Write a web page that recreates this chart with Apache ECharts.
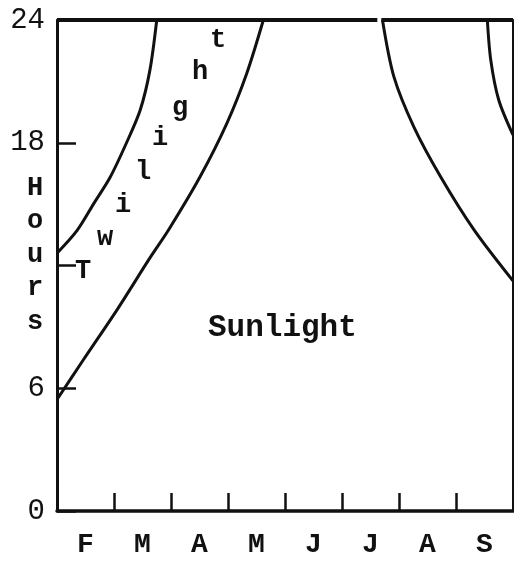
<!DOCTYPE html>
<html>
<head>
<meta charset="utf-8">
<script src="https://cdn.jsdelivr.net/npm/echarts@6/dist/echarts.min.js"></script>
<style>
html, body { margin: 0; padding: 0; background: #fff; }
#chart { width: 514px; height: 563px; }
</style>
</head>
<body>
<div id="chart"></div>
<script>
// months from 1 Feb (x = 0) to 1 Oct (x = 8)
var months = ['F', 'M', 'A', 'M', 'J', 'J', 'A', 'S'];
var hourLabels = {0: '0', 6: '6', 12: '', 18: '18', 24: '24'};

// twilight limit (upper curve, spring)
var twilightX = [0.0, 0.35, 0.65, 0.93, 1.22, 1.46, 1.63, 1.75];
var twilightY = [12.6, 13.7, 15.05, 16.3, 18.0, 19.6, 21.55, 24];

// sunlight limit (lower curve, spring)
var sunX = [0.0, 0.46, 1.05, 1.63, 1.97, 2.51, 2.98, 3.33, 3.62];
var sunY = [5.45, 7.38, 9.82, 12.37, 13.8, 16.34, 18.95, 21.4, 24];

// sunlight limit (autumn)
var sunFallX = [5.71, 5.91, 6.26, 6.73, 7.32, 8.0];
var sunFallY = [24, 21.23, 18.78, 16.34, 13.73, 11.25];

// twilight limit (autumn)
var twilightFallX = [7.55, 7.61, 7.75, 8.0];
var twilightFallY = [24, 22.04, 20.09, 18.38];

// 24 h line along the top, with the small break before July
var topX = [0, 5.62, 5.66, 5.69, 8];
var topY = [24, 24, null, 24, 24];

function pairs(xs, ys) {
  return xs.map(function (x, i) { return [x, ys[i]]; });
}

var ink = '#111';
var monoFont = '"Liberation Mono", "DejaVu Sans Mono", monospace';

function curve(name, xs, ys) {
  return {
    name: name,
    type: 'line',
    data: pairs(xs, ys),
    smooth: 0.3,
    symbol: 'none',
    lineStyle: { color: ink, width: 3 },
    xAxisIndex: 0,
    yAxisIndex: 0
  };
}

var twilightLetters = [
  ['T', 83, 271], ['w', 105, 238], ['i', 123, 205], ['l', 143, 172],
  ['i', 160, 138], ['g', 180, 108], ['h', 200, 72], ['t', 218, 40]
];
var hoursLetters = ['H', 'o', 'u', 'r', 's'];

var graphics = [];
twilightLetters.forEach(function (l) {
  graphics.push({
    type: 'text', x: l[1], y: l[2],
    style: { text: l[0], fill: ink, font: 'bold 27px ' + monoFont, align: 'center', verticalAlign: 'middle' }
  });
});
hoursLetters.forEach(function (ch, i) {
  graphics.push({
    type: 'text', x: 35, y: 188 + i * 33.5,
    style: { text: ch, fill: ink, font: 'bold 27px ' + monoFont, align: 'center', verticalAlign: 'middle' }
  });
});
graphics.push({
  type: 'text', x: 208, y: 328,
  style: { text: 'Sunlight', fill: ink, font: 'bold 31px ' + monoFont, align: 'left', verticalAlign: 'middle' }
});

var option = {
  backgroundColor: '#fff',
  animation: false,
  grid: { left: 57, right: 1, top: 20, bottom: 52 },
  xAxis: [{
    type: 'value',
    min: 0,
    max: 8,
    interval: 1,
    axisLine: { lineStyle: { color: ink, width: 3.5 } },
    axisTick: { inside: true, length: 18, lineStyle: { color: ink, width: 2.5 } },
    axisLabel: { show: false },
    splitLine: { show: false }
  }, {
    type: 'category',
    data: months,
    position: 'bottom',
    boundaryGap: true,
    axisLine: { show: false },
    axisTick: { show: false },
    axisLabel: { color: ink, fontSize: 28, fontWeight: 'bold', fontFamily: monoFont, margin: 20 },
    splitLine: { show: false }
  }],
  yAxis: [{
    type: 'value',
    min: 0,
    max: 24,
    interval: 6,
    axisLine: { show: true, lineStyle: { color: ink, width: 3 } },
    axisTick: { show: true, inside: true, length: 19, lineStyle: { color: ink, width: 2.5 } },
    axisLabel: {
      color: ink, fontSize: 29, fontFamily: monoFont, margin: 12,
      formatter: function (v) { return hourLabels[v]; }
    },
    splitLine: { show: false }
  }, {
    type: 'value',
    position: 'right',
    min: 0,
    max: 24,
    axisLine: { show: true, lineStyle: { color: ink, width: 2 } },
    axisTick: { show: false },
    axisLabel: { show: false },
    splitLine: { show: false }
  }],
  series: [
    {
      name: '24 h',
      type: 'line',
      data: pairs(topX, topY),
      symbol: 'none',
      clip: false,
      connectNulls: false,
      lineStyle: { color: ink, width: 4 },
      xAxisIndex: 0,
      yAxisIndex: 0
    },
    curve('Twilight', twilightX, twilightY),
    curve('Sunlight', sunX, sunY),
    curve('Sunlight (autumn)', sunFallX, sunFallY),
    curve('Twilight (autumn)', twilightFallX, twilightFallY)
  ],
  graphic: graphics
};

var chart = echarts.init(document.getElementById('chart'));
chart.setOption(option);
</script>
</body>
</html>
